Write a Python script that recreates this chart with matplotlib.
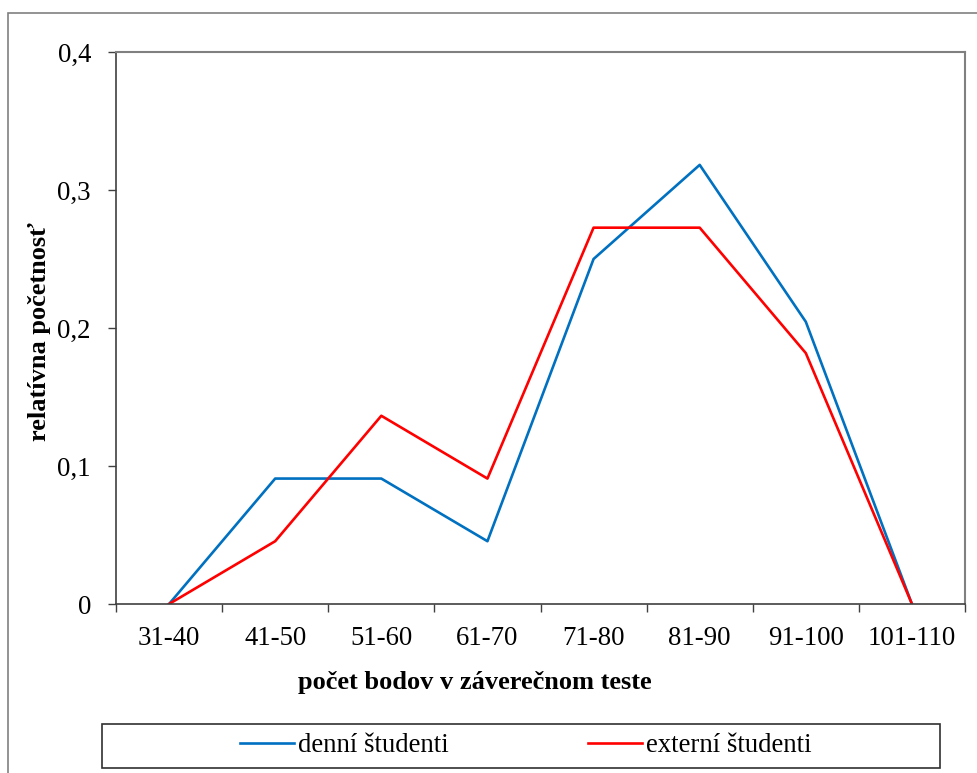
import matplotlib.pyplot as plt
from matplotlib.patches import Rectangle

# data
kategorie = ["31-40", "41-50", "51-60", "61-70", "71-80", "81-90", "91-100", "101-110"]
denni = [0, 0.0909, 0.0909, 0.0455, 0.25, 0.3182, 0.2045, 0]
externi = [0, 0.0455, 0.1364, 0.0909, 0.2727, 0.2727, 0.1818, 0]
y_ticks = [0, 0.1, 0.2, 0.3, 0.4]
y_labels = ["0", "0,1", "0,2", "0,3", "0,4"]

plt.rcParams["font.family"] = ["Liberation Serif", "DejaVu Serif"]

W, H = 977, 773
fig = plt.figure(figsize=(W / 100, H / 100), dpi=100)

# outer frame of the chart area
fig.patches.append(Rectangle((8 / W, -0.1), 1.2, 1 - 13 / H + 0.1, transform=fig.transFigure,
                             fill=False, edgecolor="#808080", linewidth=1.2))

ax = fig.add_axes([116 / W, 1 - 604 / H, (965 - 116) / W, (604 - 52) / H])

xs = [i + 0.5 for i in range(len(kategorie))]
l1, = ax.plot(xs, denni, color="#0070C0", linewidth=1.9, label="denní študenti")
l2, = ax.plot(xs, externi, color="#FF0000", linewidth=1.9, label="externí študenti")

ax.set_xlim(0, len(kategorie))
ax.set_ylim(0, 0.4)

ax.set_xticks(range(len(kategorie) + 1))
ax.set_xticklabels([])
ax.set_xticks(xs, minor=True)
ax.set_xticklabels(kategorie, minor=True, fontsize=19.3)
ax.tick_params(axis="x", which="major", direction="out", length=6, width=1, color="#404040")
ax.tick_params(axis="x", which="minor", length=0, pad=16)

ax.set_yticks(y_ticks)
ax.set_yticklabels(y_labels, fontsize=19.3)
ax.tick_params(axis="y", direction="out", length=6, width=1, color="#404040", pad=12)

for s in ["left", "bottom"]:
    ax.spines[s].set_color("#404040")
    ax.spines[s].set_linewidth(1.2)
for s in ["top", "right"]:
    ax.spines[s].set_color("#808080")
    ax.spines[s].set_linewidth(1.5)

fig.text(475 / W, 1 - 683 / H, "počet bodov v záverečnom teste", fontsize=19, fontweight="bold",
         ha="center", va="center")
fig.text(40 / W, 1 - 332 / H, "relatívna početnosť", fontsize=19, fontweight="bold",
         ha="center", va="center", rotation=90)

# legend box
fig.patches.append(Rectangle((102 / W, 1 - 768 / H), (940 - 102) / W, 44 / H,
                             transform=fig.transFigure, fill=False, edgecolor="#303030", linewidth=1.2))
fig.legend(handles=[l1, l2], loc="center", bbox_to_anchor=(526 / W, 1 - 746 / H), ncol=2,
           frameon=False, fontsize=19.3, handlelength=2.0, handletextpad=0.15, columnspacing=5.2)

fig.savefig("out.png", dpi=100)
